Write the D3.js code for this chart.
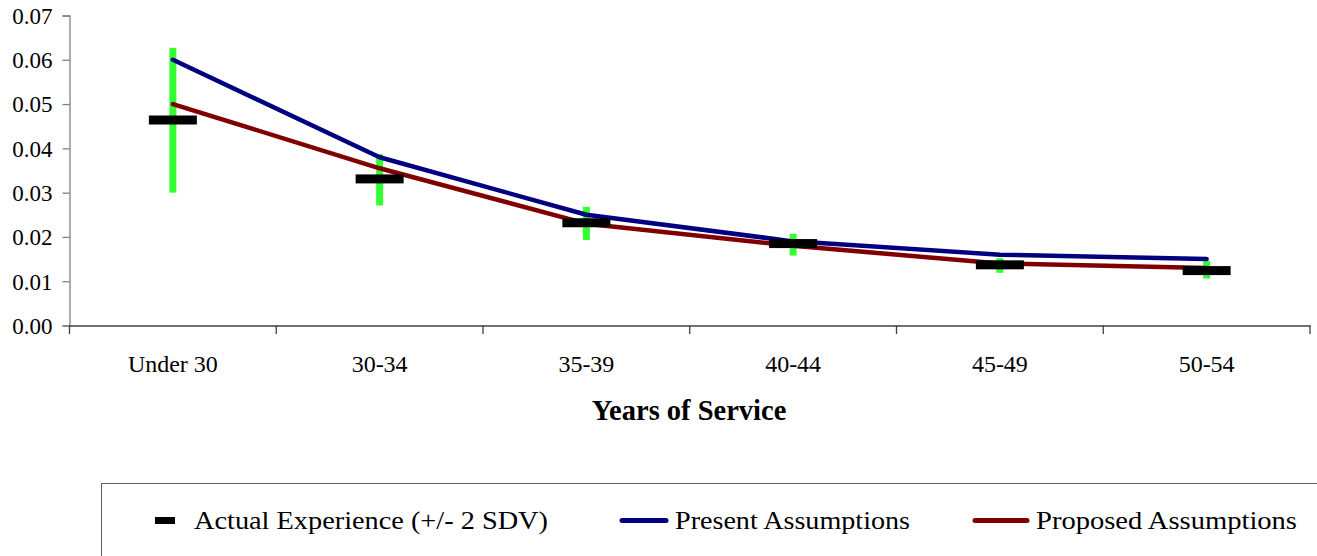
<!DOCTYPE html>
<html><head><meta charset="utf-8">
<script src="https://cdn.jsdelivr.net/npm/d3@7"></script>
<style>html,body{margin:0;padding:0;background:#fff;}svg{display:block;}</style>
</head><body>
<svg id="chart" width="1317" height="556"></svg>
<script>
const categories = ["Under 30","30-34","35-39","40-44","45-49","50-54"];
const actual = [0.0464,0.0331,0.0232,0.0185,0.0137,0.0124];
const sdvHigh = [0.0627,0.0387,0.0268,0.0207,0.0152,0.0146];
const sdvLow = [0.0300,0.0271,0.0193,0.0158,0.0119,0.0106];
const present = [0.060,0.038,0.025,0.019,0.016,0.015];
const proposed = [0.050,0.0355,0.023,0.018,0.014,0.013];
const yTicks = [0,0.01,0.02,0.03,0.04,0.05,0.06,0.07];
const xTitle = "Years of Service";
const legendLabels = ["Actual Experience (+/- 2 SDV)","Present Assumptions","Proposed Assumptions"];

const svg = d3.select("#chart");
const font = "'Liberation Serif','Times New Roman',serif";
const x = d3.scaleBand().domain(categories).range([69.5,1310]);
const y = d3.scaleLinear().domain([0,0.07]).range([325.5,15.5]);
const cx = c => x(c) + x.bandwidth()/2;

// y axis
const yAxis = svg.append("g").attr("transform","translate(69.5,0)")
  .call(d3.axisLeft(y).tickValues(yTicks).tickFormat(d3.format(".2f")).tickSize(7).tickPadding(10));
yAxis.select(".domain").attr("stroke","#808080").attr("stroke-width",1.3);
yAxis.selectAll(".tick line").attr("stroke","#808080").attr("stroke-width",1.3);
yAxis.selectAll(".tick text").attr("font-family",font).attr("font-size",23).attr("fill","#000").attr("dy","0.34em");

// x axis
const xAxis = svg.append("g").attr("transform","translate(0,325.5)")
  .call(d3.axisBottom(x).tickSize(0).tickFormat(""));
xAxis.select(".domain").attr("stroke","#404040").attr("stroke-width",1.3);
xAxis.selectAll(".tick").remove();
const bounds = categories.map(c => x(c)).concat([x.range()[1]]);
svg.append("g").selectAll("line").data(bounds).join("line")
  .attr("x1",d=>d).attr("x2",d=>d).attr("y1",325.5).attr("y2",334)
  .attr("stroke","#404040").attr("stroke-width",1.3);
svg.append("g").selectAll("text").data(categories).join("text")
  .attr("x",d=>cx(d)).attr("y",371.5).attr("text-anchor","middle")
  .attr("font-family",font).attr("font-size",24).attr("fill","#000").text(d=>d);
svg.append("text").attr("x",689).attr("y",420).attr("text-anchor","middle")
  .attr("font-family",font).attr("font-size",28.5).attr("font-weight","bold").text(xTitle);

// error bars
svg.append("g").selectAll("rect").data(categories).join("rect")
  .attr("x",d=>cx(d)-3.5).attr("width",7)
  .attr("y",(d,i)=>y(sdvHigh[i])).attr("height",(d,i)=>y(sdvLow[i])-y(sdvHigh[i]))
  .attr("fill","#33ff33");

// lines
const line = d3.line().x((d,i)=>cx(categories[i])).y(d=>y(d));
svg.append("path").datum(present).attr("d",line).attr("fill","none")
  .attr("stroke","#000080").attr("stroke-width",4.5).attr("stroke-linecap","round").attr("stroke-linejoin","round");
svg.append("path").datum(proposed).attr("d",line).attr("fill","none")
  .attr("stroke","#800000").attr("stroke-width",4.5).attr("stroke-linecap","round").attr("stroke-linejoin","round");

// actual markers
svg.append("g").selectAll("rect").data(categories).join("rect")
  .attr("x",d=>cx(d)-24).attr("width",48)
  .attr("y",(d,i)=>y(actual[i])-4.5).attr("height",9)
  .attr("fill","#000");

// legend
const lg = svg.append("g");
lg.append("rect").attr("x",101.5).attr("y",483.5).attr("width",1240).attr("height",100)
  .attr("fill","#fff").attr("stroke","#606060").attr("stroke-width",1);
lg.append("rect").attr("x",155).attr("y",517).attr("width",20).attr("height",7).attr("fill","#000");
lg.append("line").attr("x1",622).attr("x2",666).attr("y1",520.5).attr("y2",520.5)
  .attr("stroke","#000080").attr("stroke-width",5).attr("stroke-linecap","round");
lg.append("line").attr("x1",975).attr("x2",1027).attr("y1",520.5).attr("y2",520.5)
  .attr("stroke","#800000").attr("stroke-width",5).attr("stroke-linecap","round");
const lx = [194,675,1036], lw = [354,235,261];
lg.selectAll("text").data(legendLabels).join("text")
  .attr("x",(d,i)=>lx[i]).attr("y",529).attr("font-family",font).attr("font-size",26)
  .attr("textLength",(d,i)=>lw[i]).attr("lengthAdjust","spacingAndGlyphs")
  .attr("fill","#000").text(d=>d);
</script>
</body></html>
